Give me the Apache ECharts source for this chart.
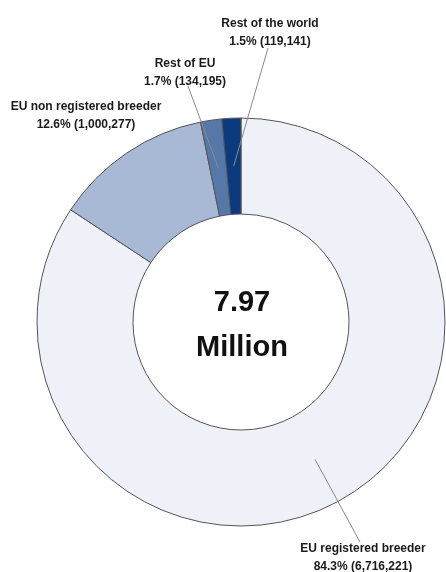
<!DOCTYPE html>
<html>
<head>
<meta charset="utf-8">
<script src="https://cdn.jsdelivr.net/npm/echarts@6/dist/echarts.min.js"></script>
<style>
  html, body { margin: 0; padding: 0; background: #ffffff; }
  #chart { width: 446px; height: 572px; }
</style>
</head>
<body>
<div id="chart"></div>
<script>
// Breeding origin of the 7.97 million animals
const categories = ['EU registered breeder', 'EU non registered breeder', 'Rest of EU', 'Rest of the world'];
const counts = [6716221, 1000277, 134195, 119141];
const totalLabel = ['7.97', 'Million'];

const sliceColors = ['#eef2f8', '#a7b9d4', '#5678a9', '#0b3a7f'];

// Label placement: text block centre and the point where the leader line leaves the text
const labelPos = [
  { x: 363, y: 558, line: [-3, -16] },
  { x: 86, y: 116, line: null },
  { x: 185, y: 73, line: [3, 13] },
  { x: 270, y: 33, line: [-2, 15] }
];

const CX = 241, CY = 322, R_IN = 108, R_OUT = 204;
const total = counts.reduce((a, b) => a + b, 0);

function fmtPct(v) { return (v / total * 100).toFixed(1) + '%'; }
function fmtNum(v) { return v.toLocaleString('en-US'); }

// Mid-ring point of a slice, walking clockwise from 12 o'clock
function sliceMid(i) {
  let before = 0;
  for (let k = 0; k < i; k++) before += counts[k];
  const frac = (before + counts[i] / 2) / total;
  const a = frac * Math.PI * 2;
  const r = (R_IN + R_OUT) / 2;
  return [CX + r * Math.sin(a), CY - r * Math.cos(a)];
}

const pieBase = {
  type: 'pie',
  center: [CX, CY],
  radius: [R_IN, R_OUT],
  startAngle: 90,
  clockwise: true,
  avoidLabelOverlap: false,
  silent: true
};

const chart = echarts.init(document.getElementById('chart'), null, { renderer: 'canvas' });

chart.setOption({
  backgroundColor: '#ffffff',
  animation: false,
  series: [
    // filled ring
    Object.assign({}, pieBase, {
      z: 2,
      itemStyle: { borderColor: '#555555', borderWidth: 1 },
      label: { show: false },
      labelLine: { show: false },
      data: categories.map((name, i) => ({
        name: name,
        value: counts[i],
        itemStyle: { color: sliceColors[i] }
      }))
    }),
    // transparent copy on top carrying the labels, so leader lines run over the slices
    Object.assign({}, pieBase, {
      z: 5,
      itemStyle: { color: 'rgba(0,0,0,0)', borderWidth: 0 },
      label: {
        show: true,
        position: 'outside',
        color: '#1a1a1a',
        fontFamily: 'Liberation Sans, Arial, sans-serif',
        fontWeight: 'bold',
        fontSize: 12,
        lineHeight: 18,
        align: 'center',
        formatter: p => p.name + '\n' + fmtPct(p.value) + ' (' + fmtNum(p.value) + ')'
      },
      labelLine: { show: true, lineStyle: { color: '#8a8a8a', width: 1 } },
      labelLayout: params => {
        const i = params.dataIndex;
        const pos = labelPos[i];
        const out = { x: pos.x, y: pos.y, align: 'center', verticalAlign: 'middle' };
        if (pos.line) {
          const start = [pos.x + pos.line[0], pos.y + pos.line[1]];
          const end = sliceMid(i);
          out.labelLinePoints = [start, start, end];
        }
        return out;
      },
      data: categories.map((name, i) => ({
        name: name,
        value: counts[i],
        labelLine: { show: labelPos[i].line !== null }
      }))
    })
  ],
  graphic: [{
    type: 'text',
    x: CX + 1,
    y: CY + 3,
    z: 10,
    style: {
      text: totalLabel.join('\n'),
      align: 'center',
      verticalAlign: 'middle',
      textAlign: 'center',
      textVerticalAlign: 'middle',
      font: 'bold 29px "Liberation Sans", Arial, sans-serif',
      lineHeight: 45,
      fill: '#111111'
    }
  }]
});
</script>
</body>
</html>
